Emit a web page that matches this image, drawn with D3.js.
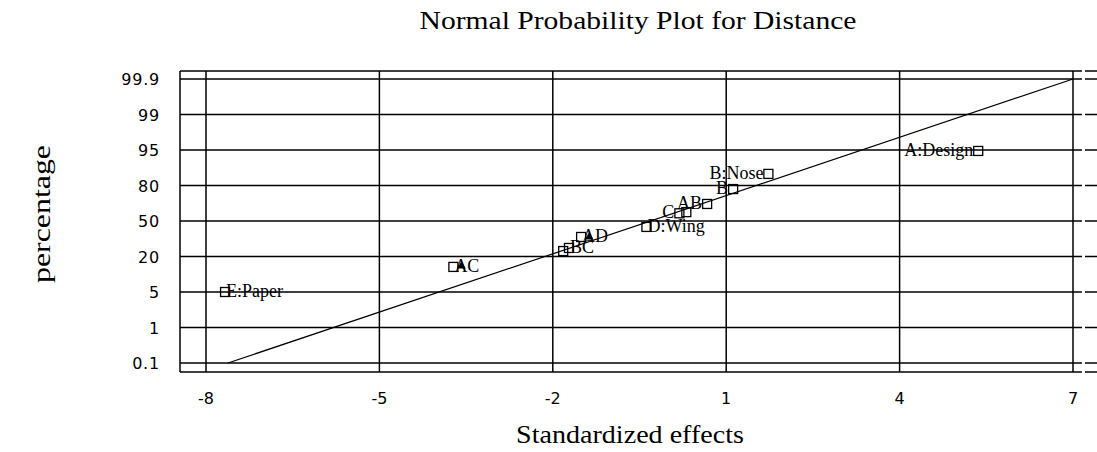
<!DOCTYPE html>
<html>
<head>
<meta charset="utf-8">
<script src="https://cdn.jsdelivr.net/npm/d3@7"></script>
<style>
  body { margin: 0; background: #fff; }
  svg { display: block; }
  .serif { font-family: "Liberation Serif", "Times New Roman", serif; }
  .sans { font-family: "DejaVu Sans", sans-serif; }
</style>
</head>
<body>
<div id="plot"></div>
<script>
// axis ticks
const xTicks = [-8, -5, -2, 1, 4, 7];
const yTicks = [0.1, 1, 5, 20, 50, 80, 95, 99, 99.9];

// effects (standardized effect, normal % probability)
const effectLabels = ["E:Paper", "AC", "", "BC", "AD", "D:Wing", "C", "", "AB", "B", "B:Nose", "A:Design"];
const effectValues = [-7.67, -3.72, -1.82, -1.72, -1.51, -0.38, 0.19, 0.31, 0.67, 1.12, 1.73, 5.36];
const effectPercents = [5, 15.6, 24.6, 27.2, 36.5, 45, 56.5, 57.5, 64.4, 77, 84.9, 94.6];
const labelSides = ["right", "right", "", "right", "right", "right", "left", "", "left", "left", "left", "left"];

// filled triangle markers
const triValues = [-3.58, -1.37];
const triPercents = [16, 36.5];

// reference line
const fitX = [-7.62, 7];
const fitP = [0.1, 99.9];

const W = 1097, H = 452;
const frame = {left: 180, top: 71, bottom: 372, right: 1110};

const svg = d3.select("#plot").append("svg")
  .attr("width", W).attr("height", H);

const x = d3.scaleLinear().domain([-8, 7]).range([206, 1073]);
// probability axis: ticks evenly spaced
const y = d3.scaleLinear()
  .domain(yTicks)
  .range(yTicks.map((d, i) => 363 - i * 35.5));

// stretched serif text (the original uses a wide bitmap font)
function wideText(cx, cy, rot, width, size, str) {
  const t = svg.append("g")
    .attr("transform", `translate(${cx},${cy}) rotate(${rot})`)
    .append("text")
    .attr("class", "serif")
    .attr("text-anchor", "middle")
    .style("font-size", size + "px")
    .text(str);
  const w = t.node().getComputedTextLength();
  t.attr("transform", `scale(${width / w},1)`);
}

wideText(638, 29, 0, 437, 25, "Normal Probability Plot for Distance");
wideText(630, 443, 0, 228, 25, "Standardized effects");
wideText(50, 214, -90, 138, 25, "percentage");

// grid + frame
const g = svg.append("g")
  .attr("stroke", "#000").attr("stroke-width", 1.5);

g.selectAll(".hgrid").data(yTicks).enter().append("line")
  .attr("x1", frame.left).attr("x2", frame.right)
  .attr("y1", d => y(d)).attr("y2", d => y(d));

g.selectAll(".vgrid").data(xTicks).enter().append("line")
  .attr("x1", d => x(d)).attr("x2", d => x(d))
  .attr("y1", frame.top).attr("y2", frame.bottom);

g.append("line").attr("x1", frame.left).attr("x2", frame.right)
  .attr("y1", frame.top).attr("y2", frame.top);
g.append("line").attr("x1", frame.left).attr("x2", frame.right)
  .attr("y1", frame.bottom).attr("y2", frame.bottom);
g.append("line").attr("x1", frame.left).attr("x2", frame.left)
  .attr("y1", frame.top).attr("y2", frame.bottom);

// small break in the lines right of the frame
svg.append("rect").attr("x", 1082).attr("y", frame.top - 2)
  .attr("width", 3).attr("height", frame.bottom - frame.top + 5).attr("fill", "#fff");

// tick labels
svg.selectAll(".xt").data(xTicks).enter().append("text")
  .attr("class", "sans")
  .attr("x", d => x(d)).attr("y", 404)
  .attr("text-anchor", "middle")
  .style("font-size", "16px")
  .text(d => d);

svg.selectAll(".yt").data(yTicks).enter().append("text")
  .attr("class", "sans")
  .attr("x", 160).attr("y", d => y(d) + 6)
  .attr("text-anchor", "end")
  .style("font-size", "16px").style("letter-spacing", "0.8px")
  .text(d => d);

// reference line
svg.append("path")
  .datum(d3.zip(fitX, fitP))
  .attr("fill", "none").attr("stroke", "#000").attr("stroke-width", 1.2)
  .attr("d", d3.line().x(d => x(d[0])).y(d => y(d[1])));

// points
const pts = d3.range(effectValues.length).map(i => ({
  v: effectValues[i], p: effectPercents[i], label: effectLabels[i], side: labelSides[i]
}));

svg.selectAll(".pt").data(pts).enter().append("rect")
  .attr("x", d => x(d.v) - 4.5).attr("y", d => y(d.p) - 4.5)
  .attr("width", 9).attr("height", 9)
  .attr("fill", "none").attr("stroke", "#000").attr("stroke-width", 1.3);

svg.selectAll(".tri").data(d3.zip(triValues, triPercents)).enter().append("path")
  .attr("transform", d => `translate(${x(d[0])},${y(d[1])})`)
  .attr("d", d3.symbol(d3.symbolTriangle, 32))
  .attr("fill", "#000");

svg.selectAll(".lbl").data(pts.filter(d => d.label)).enter().append("text")
  .attr("class", "serif")
  .attr("x", d => d.side === "left" ? x(d.v) - 5 : x(d.v) + 1)
  .attr("y", d => y(d.p) + 5)
  .attr("text-anchor", d => d.side === "left" ? "end" : "start")
  .style("font-size", "18px")
  .text(d => d.label);
</script>
</body>
</html>
